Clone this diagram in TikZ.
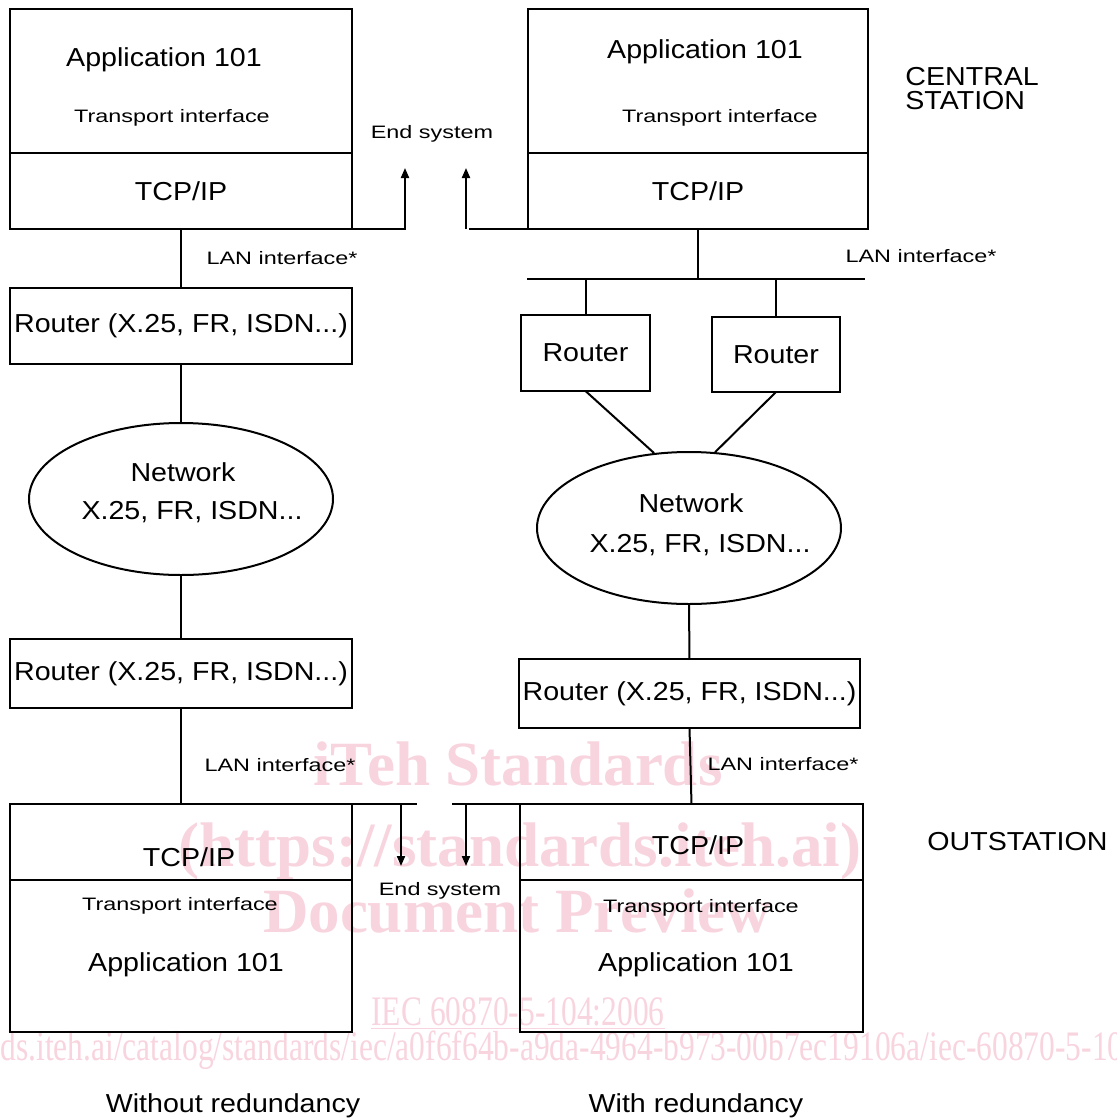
\documentclass[tikz,border=0pt]{standalone}
\usepackage{fontspec}
\setmainfont{Liberation Sans}
\newfontfamily\bigsf[FakeStretch=1.1]{Liberation Sans}
\newfontfamily\smallsf[FakeStretch=1.3]{Liberation Sans}
\newfontfamily\markfont{Liberation Serif}
\newfontfamily\markcond[FakeStretch=0.75]{Liberation Serif}
\usepackage{xcolor}
\usepackage{tikz}
\usetikzlibrary{arrows.meta,shapes.geometric,positioning}

\definecolor{wmark}{RGB}{248,212,222}

\tikzset{
    box/.style={draw, line width=1.2pt, inner sep=0pt, outer sep=0pt, anchor=north west, font=\bigsf\fontsize{13pt}{15pt}\selectfont},
    big/.style={font=\bigsf\fontsize{13pt}{15pt}\selectfont, inner sep=0pt},
    small/.style={font=\smallsf\fontsize{9pt}{11pt}\selectfont, inner sep=0pt},
    link/.style={line width=1pt},
    up/.style={link, -{Triangle[length=5pt,width=4pt]}},
    net/.style={draw, ellipse, line width=1pt, minimum width=152pt, minimum height=76pt, inner sep=0pt},
    wmtext/.style={text=wmark, inner sep=0pt}
}

\begin{document}
\begin{tikzpicture}[x=0.5pt, y=-0.5pt]

\useasboundingbox (0,0) rectangle (1117,1119);

% Watermark behind the drawing
\begin{scope}
\clip (0,0) rectangle (1117,1119);
\node[wmtext, anchor=base, font=\markfont\bfseries\fontsize{31.5pt}{34pt}\selectfont] (wmA) at (518,785) {iTeh Standards};
\node[wmtext, anchor=base, font=\markfont\bfseries\fontsize{31.5pt}{34pt}\selectfont] (wmB) at (520,866) {(https://standards.iteh.ai)};
\node[wmtext, anchor=base, font=\markfont\bfseries\fontsize{31.5pt}{34pt}\selectfont] (wmC) at (517,932) {Document Preview};
\node[wmtext, anchor=base, font=\markcond\fontsize{21pt}{24pt}\selectfont] (wmD) at (518,1025) {\underline{IEC 60870-5-104:2006}};
\node[wmtext, anchor=base west, font=\markcond\fontsize{21pt}{24pt}\selectfont] (wmE) at (0,1060) {ds.iteh.ai/catalog/standards/iec/a0f6f64b-a9da-4964-b973-00b7ec19106a/iec-60870-5-104-2006};
\end{scope}

% Without redundancy: central station
\node[box, minimum width=171pt, minimum height=72pt] (appA) at (10,9) {};
\node[box, minimum width=171pt, minimum height=38pt, below=0pt of appA] (tcpA) {TCP/IP};
\node[big] (appAtxt) at (164,60) {Application 101};
\node[small] (trnAtxt) at (172,118) {Transport interface};

% Without redundancy: router, network, router
\node[box, minimum width=171pt, minimum height=38pt] (rtA1) at (10,288) {Router (X.25, FR, ISDN...)};
\node[net] (netA) at (181,499) {};
\node[big] (netAtxt) at (183,472) {Network};
\node[big] (netAsub) at (192,512) {X.25, FR, ISDN...};
\node[box, minimum width=171pt, minimum height=34.5pt] (rtA2) at (10,639) {Router (X.25, FR, ISDN...)};

% Without redundancy: outstation
\node[box, minimum width=171pt, minimum height=38pt] (tcpC) at (10,804) {};
\node[box, minimum width=171pt, minimum height=76pt, below=0pt of tcpC] (appC) {};
\node[big] (tcpCtxt) at (189,857) {TCP/IP};
\node[small] (trnCtxt) at (180,906) {Transport interface};
\node[big] (appCtxt) at (186,965) {Application 101};

% With redundancy: central station
\node[box, minimum width=170pt, minimum height=72pt] (appB) at (528,9) {};
\node[box, minimum width=170pt, minimum height=38pt, below=0pt of appB] (tcpB) {TCP/IP};
\node[big] (appBtxt) at (705,52) {Application 101};
\node[small] (trnBtxt) at (720,118) {Transport interface};

% With redundancy: LAN, two routers, network, router
\coordinate (busL) at (527,279);
\coordinate (busR) at (865,279);
\node[box, minimum width=64.5pt, minimum height=38pt] (rtB1) at (521,315) {Router};
\node[box, minimum width=64pt, minimum height=37.5pt] (rtB2) at (712,317) {Router};
\node[net] (netB) at (689,528) {};
\node[big] (netBtxt) at (691,503) {Network};
\node[big] (netBsub) at (700,545) {X.25, FR, ISDN...};
\node[box, minimum width=170.5pt, minimum height=34.5pt] (rtB3) at (519,659) {Router (X.25, FR, ISDN...)};

% With redundancy: outstation
\node[box, minimum width=171.5pt, minimum height=38pt] (tcpD) at (520,804) {};
\node[box, minimum width=171.5pt, minimum height=76pt, below=0pt of tcpD] (appD) {};
\node[big] (tcpDtxt) at (698,845) {TCP/IP};
\node[small] (trnDtxt) at (701,908) {Transport interface};
\node[big] (appDtxt) at (696,965) {Application 101};

% Links
\draw[link] (tcpA.south) -- (rtA1.north);
\draw[link] (rtA1.south) -- (netA.north);
\draw[link] (netA.south) -- (rtA2.north);
\draw[link] (rtA2.south) -- (tcpC.north);

\draw[link] (busL) -- (busR);
\draw[link] (tcpB.south) -- (tcpB.south |- busL);
\draw[link] (rtB1.north) -- (rtB1.north |- busL);
\draw[link] (rtB2.north) -- (rtB2.north |- busL);
\draw[link] (rtB1.south) -- (netB.115);
\draw[link] (rtB2.south) -- (netB.71);
\draw[link] (netB.south) -- (rtB3.north);
\draw[link] (rtB3.south) -- (tcpD.north);

% End system arrows, top
\coordinate (esA) at (405,168);
\coordinate (esB) at (466,168);
\coordinate (gapB) at (469,229);
\draw[up] (tcpA.south east) -| (esA);
\draw[link] (tcpB.south west) -- (gapB);
\draw[up] (esB |- gapB) -- (esB);
\node[small] (esTop) at (432,134) {End system};

% End system arrows, bottom
\coordinate (esC) at (401,866);
\coordinate (esD) at (466,866);
\coordinate (gapC) at (417,804);
\coordinate (gapD) at (452,804);
\draw[link] (tcpC.north east) -- (gapC);
\draw[up] (esC |- gapC) -- (esC);
\draw[link] (tcpD.north west) -- (gapD);
\draw[up] (esD |- gapD) -- (esD);
\node[small] (esBot) at (440,891) {End system};

% LAN labels
\node[small] (lanA) at (282,258) {LAN interface*};
\node[small] (lanB) at (921,256) {LAN interface*};
\node[small] (lanC) at (280,765) {LAN interface*};
\node[small] (lanD) at (783,764) {LAN interface*};

% Station and caption labels
\node[big, anchor=west, align=left] (central) at (905,89) {CENTRAL\\[-3pt]STATION};
\node[big, anchor=west] (outst) at (927,842) {OUTSTATION};
\node[big] (capA) at (233,1106) {Without redundancy};
\node[big] (capB) at (696,1106) {With redundancy};

\end{tikzpicture}
\end{document}
